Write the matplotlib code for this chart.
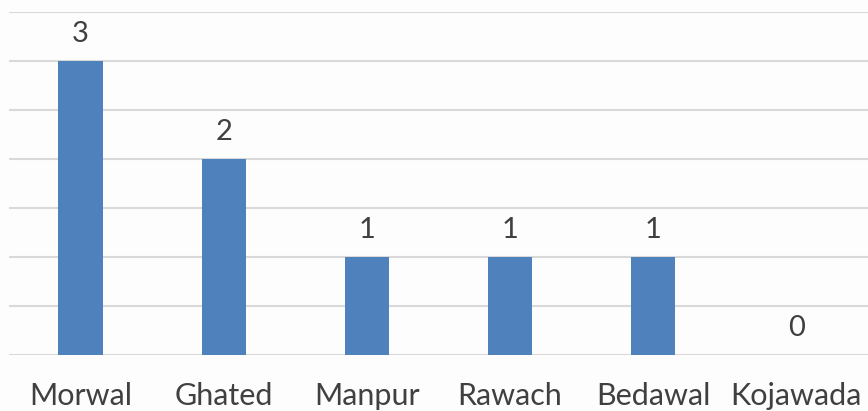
import matplotlib.pyplot as plt
import numpy as np

# data
villages = ["Morwal", "Ghated", "Manpur", "Rawach", "Bedawal", "Kojawada"]
counts = [3, 2, 1, 1, 1, 0]

bar_color = "#4f81bd"
text_color = "#404040"
grid_color = "#d9d9d9"

plt.rcParams['font.family'] = ['Lato', 'DejaVu Sans']

fig = plt.figure(figsize=(8.68, 4.11), dpi=100)
fig.patch.set_facecolor("#fdfdfd")
ax = fig.add_axes([9 / 868, 56 / 411, 859 / 868, (355 - 12) / 411])
ax.set_facecolor("none")

x = np.arange(len(villages))
bars = ax.bar(x, counts, width=0.31, color=bar_color, zorder=3)

for xi, v in zip(x, counts):
    ax.annotate(str(v), (xi, v), xytext=(0, 10), textcoords="offset points",
                ha="center", va="bottom", fontsize=21, color=text_color)

ax.set_xlim(-0.5, len(villages) - 0.5)
ax.set_ylim(0, 3.5)
ax.set_yticks(np.arange(0, 3.51, 0.5))
ax.set_yticklabels([])
ax.yaxis.grid(True, color=grid_color, linewidth=1.5, zorder=0)
ax.tick_params(axis="both", length=0)
ax.set_xticks(x)
ax.set_xticklabels(villages, fontsize=22, color=text_color)
ax.tick_params(axis="x", pad=19.5)
for s in ax.spines.values():
    s.set_visible(False)

fig.savefig("out.png", dpi=100, facecolor=fig.get_facecolor())
